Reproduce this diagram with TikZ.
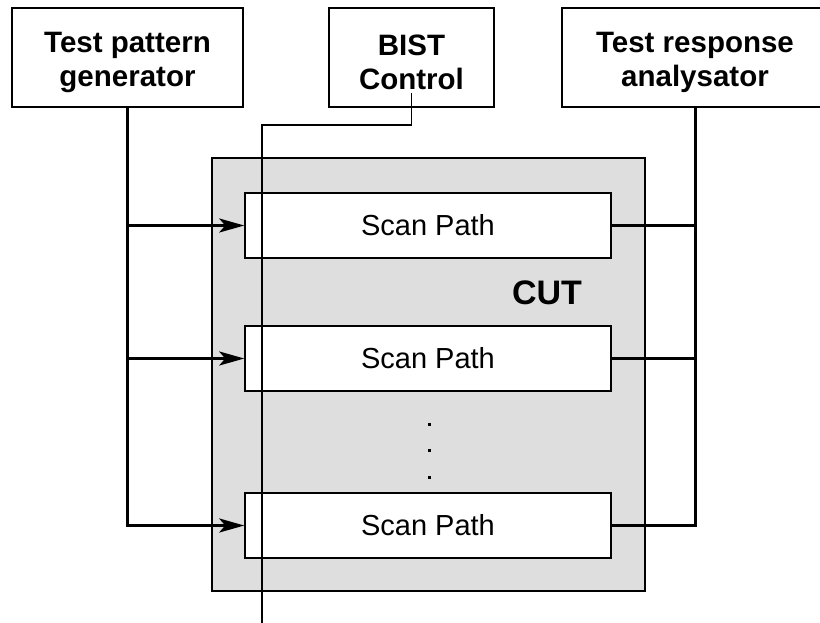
\documentclass[tikz,border=0pt]{standalone}
\usepackage{fontspec}
\setmainfont{Liberation Sans}
\usetikzlibrary{arrows.meta, positioning, calc}

\definecolor{cutgray}{HTML}{DEDEDE}
\newcommand{\unitstrut}{\rule{0pt}{31pt}}

\tikzset{
  unit/.style={draw, line width=1.5pt, fill=white, inner sep=0pt, align=center,
    minimum height=99pt, font=\fontsize{29.5}{34}\selectfont\bfseries},
  scanbox/.style={draw, line width=1.5pt, fill=white, inner sep=0pt,
    minimum width=366pt, minimum height=65pt, font=\fontsize{29}{34}\selectfont},
  bus/.style={line width=3pt},
  wire/.style={line width=1.5pt},
  tip/.style={-{Stealth[length=25pt, width=14pt, inset=6pt]}}
}

\begin{document}
\begin{tikzpicture}[x=1pt, y=-1pt]
  \useasboundingbox (0,0) rectangle (820,622);

  %Define nodes
  \node[draw, line width=1.5pt, fill=cutgray, minimum width=433pt, minimum height=433pt,
    inner sep=0pt] (cut) at (428.5,374.5) {};
  \node[font=\fontsize{34}{40}\selectfont\bfseries] (cutlabel) at (547,293) {CUT};

  \node[unit, minimum width=231pt] (tpg) at (127.5,57.5) {\unitstrut Test pattern\\generator};
  \node[unit, minimum width=165pt] (bist) at (411.5,57.5) {\unitstrut BIST\\Control};
  \node[unit, minimum width=266pt] (tra) at (695,57.5) {\unitstrut Test response\\analysator};

  \node[scanbox] (scan1) at (428,225.5) {Scan Path};
  \node[scanbox] (scan2) at (428,358.5) {Scan Path};
  \node[scanbox] (scan3) at (428,525.5) {Scan Path};

  % dots between the scan paths
  \foreach \y in {424,450,477}
    \fill (427.5,\y-1.5) rectangle ++(3,3);

  % Connect the nodes
  \draw[bus, tip] (tpg.south) |- (scan3.west);
  \draw[bus, tip] (tpg.south |- scan1.west) -- (scan1.west);
  \draw[bus, tip] (tpg.south |- scan2.west) -- (scan2.west);

  \draw[bus] (tra.south) -- (tra.south |- scan3.east) -- (scan3.east);
  \draw[bus] (scan1.east) -- (tra.south |- scan1.east);
  \draw[bus] (scan2.east) -- (tra.south |- scan2.east);

  \coordinate (bistout) at ($(bist.south)+(0,-15)$);
  \coordinate (bistend) at (262,630);
  \draw[wire] (bistout) -- (bistout |- 0,125) -| (bistend);
\end{tikzpicture}
\end{document}
